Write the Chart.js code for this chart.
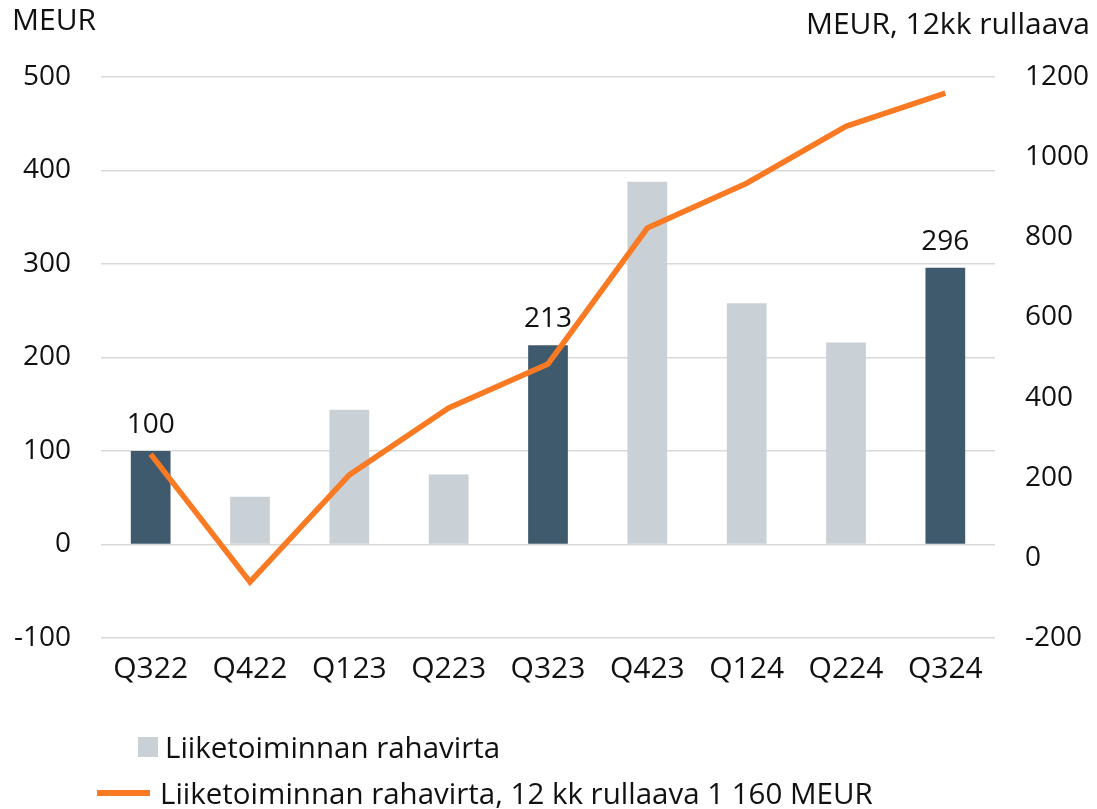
<!DOCTYPE html>
<html>
<head>
<meta charset="utf-8">
<script src="https://cdn.jsdelivr.net/npm/chart.js@4"></script>
<style>
  html, body { margin: 0; padding: 0; background: #fff; }
  #wrap { position: relative; width: 1097px; height: 809px; font-family: "Open Sans", sans-serif; color: #111; }
  canvas { position: absolute; left: 0; top: 0; }
  .title { position: absolute; font-size: 30px; white-space: nowrap; line-height: 1; }
  .leg { position: absolute; font-size: 29.5px; white-space: nowrap; line-height: 1; display: flex; align-items: center; }
  .box { width: 20px; height: 20px; background: #c9d0d6; display: inline-block; margin-right: 7px; }
  .ln { width: 53px; height: 6px; background: #f97a22; display: inline-block; margin-right: 10px; }
</style>
</head>
<body>
<div id="wrap">
  <canvas id="c" width="1097" height="809"></canvas>
  <div class="title" style="left:12px; top:4px;">MEUR</div>
  <div class="title" style="right:7px; top:8px;">MEUR, 12kk rullaava</div>
  <div class="leg" style="left:138px; top:732px;"><span class="box"></span>Liiketoiminnan rahavirta</div>
  <div class="leg" style="left:97px; top:778px;"><span class="ln"></span>Liiketoiminnan rahavirta, 12 kk rullaava 1 160 MEUR</div>
</div>
<script>
const categories = ["Q322", "Q422", "Q123", "Q223", "Q323", "Q423", "Q124", "Q224", "Q324"];
const quarterlyCashFlow = [100, 51, 144, 75, 213, 388, 258, 216, 296];
const rolling12m = [259, -60, 207, 374, 484, 823, 935, 1077, 1160];
const highlighted = [true, false, false, false, true, false, false, false, true];
const leftTicks = [-100, 0, 100, 200, 300, 400, 500];
const rightTicks = [-200, 0, 200, 400, 600, 800, 1000, 1200];

const DARK = "#3f5a6d";
const LIGHT = "#c9d0d6";
const ORANGE = "#f97a22";
const FONT = "'Open Sans', sans-serif";

const barLabels = {
  id: "barLabels",
  afterDatasetsDraw(chart) {
    const ctx = chart.ctx;
    const meta = chart.getDatasetMeta(1);
    ctx.save();
    ctx.font = "28px " + FONT;
    ctx.fillStyle = "#111";
    ctx.textAlign = "center";
    ctx.textBaseline = "bottom";
    meta.data.forEach((bar, i) => {
      if (highlighted[i]) {
        ctx.fillText(String(quarterlyCashFlow[i]), bar.x, bar.y - 12);
      }
    });
    ctx.restore();
  }
};

new Chart(document.getElementById("c"), {
  data: {
    labels: categories,
    datasets: [
      {
        type: "line",
        label: "Liiketoiminnan rahavirta, 12 kk rullaava 1 160 MEUR",
        data: rolling12m,
        yAxisID: "y2",
        borderColor: ORANGE,
        borderWidth: 5.5,
        pointRadius: 0,
        tension: 0,
        order: 0
      },
      {
        type: "bar",
        label: "Liiketoiminnan rahavirta",
        data: quarterlyCashFlow,
        yAxisID: "y",
        backgroundColor: highlighted.map(h => h ? DARK : LIGHT),
        barPercentage: 0.4,
        categoryPercentage: 1.0,
        order: 1
      }
    ]
  },
  options: {
    responsive: false,
    animation: false,
    devicePixelRatio: 1,
    layout: { padding: { top: 77, left: 0, right: 0, bottom: 0 } },
    plugins: { legend: { display: false }, tooltip: { enabled: false } },
    scales: {
      x: {
        grid: { display: false, drawTicks: false },
        border: { display: false },
        ticks: { font: { family: FONT, size: 30 }, color: "#111", padding: 13, maxRotation: 0 },
        afterFit(s) { s.height = 171; }
      },
      y: {
        position: "left",
        min: -100, max: 500,
        afterBuildTicks(s) { s.ticks = leftTicks.map(v => ({ value: v })); },
        grid: { color: "#d9d9d9", lineWidth: 1.5, drawTicks: false },
        border: { display: false },
        ticks: { font: { family: FONT, size: 28 }, color: "#111", padding: 30, callback: v => String(v) },
        afterFit(s) { s.width = 101; }
      },
      y2: {
        position: "right",
        min: -200, max: 1200,
        afterBuildTicks(s) { s.ticks = rightTicks.map(v => ({ value: v })); },
        grid: { display: false, drawTicks: false },
        border: { display: false },
        ticks: { font: { family: FONT, size: 28 }, color: "#111", padding: 30, callback: v => String(v) },
        afterFit(s) { s.width = 102; }
      }
    }
  },
  plugins: [barLabels]
});
</script>
</body>
</html>
